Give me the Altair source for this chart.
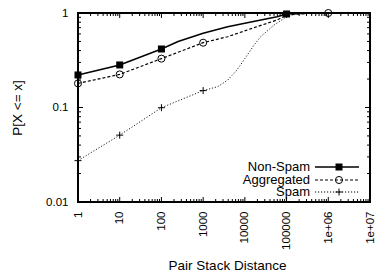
import altair as alt
import pandas as pd

# ---- data ----
nonspam_x = [1, 10, 100, 251, 1000, 3870, 15000, 59000, 100000, 300000, 1000000]
nonspam_y = [0.221, 0.282, 0.416, 0.50, 0.61, 0.716, 0.809, 0.914, 0.976, 0.995, 1.0]
nonspam_mx = [1, 10, 100, 100000]
nonspam_my = [0.221, 0.282, 0.416, 0.976]

aggregated_x = [1, 10, 100, 1000, 3870, 15000, 59000, 100000, 300000, 1000000]
aggregated_y = [0.18, 0.224, 0.329, 0.485, 0.561, 0.689, 0.843, 0.95, 0.99, 1.0]
aggregated_mx = [1, 10, 100, 1000, 1000000]
aggregated_my = [0.18, 0.224, 0.329, 0.485, 1.0]

spam_x = [1, 10, 100, 1000, 2240, 3870, 6000, 8000, 10000, 13000, 16600, 24000, 50000, 85000,
          100000, 178000, 1000000]
spam_y = [0.0274, 0.051, 0.0995, 0.151, 0.166, 0.195, 0.24, 0.285, 0.33, 0.39, 0.458, 0.561,
          0.746, 0.87, 0.92, 0.99, 1.0]
spam_mx = [1, 10, 100, 1000]
spam_my = [0.0274, 0.051, 0.0995, 0.151]

series_names = ["Non-Spam", "Aggregated", "Spam"]

x_major = [1, 10, 100, 1000, 10000, 100000, 1000000, 10000000]
x_tick_labels = ["1", "10", "100", "1000", "10000", "100000", "1e+06", "1e+07"]
x_minor = [k * 10 ** n for n in range(0, 7) for k in range(2, 10)]
y_major = [0.01, 0.1, 1]
y_tick_labels = ["0.01", "0.1", "1"]
y_minor = [k * 10.0 ** n for n in (-2, -1) for k in range(2, 10)]

W, H = 292, 189
FONT = "Liberation Sans"

xs = alt.Scale(type="log", domain=[1, 10000000], nice=False)
ys = alt.Scale(type="log", domain=[0.01, 1], nice=False)

x_lab_expr = "[" + ",".join("'%s'" % s for s in x_tick_labels) + "][round(log(datum.value)/LN10)]"
y_lab_expr = "[" + ",".join("'%s'" % s for s in y_tick_labels) + "][round(log(datum.value)/LN10)+2]"

x_axis = alt.Axis(values=x_major, labelExpr=x_lab_expr, labelAngle=270, labelFlush=False,
                  labelOverlap=False, labelPadding=9, ticks=False, tickSize=0, domain=False,
                  grid=False, labelFont=FONT, labelFontSize=11.5, labelColor="black",
                  title="Pair Stack Distance", titleFont=FONT, titleFontSize=13.5,
                  titleFontWeight="normal", titleColor="black", titleX=149, titleY=67,
                  titleAlign="center", titleBaseline="alphabetic")
y_axis = alt.Axis(values=y_major, labelExpr=y_lab_expr, labelPadding=10, ticks=False, tickSize=0,
                  domain=False, grid=False, labelFont=FONT, labelFontSize=11.5, labelColor="black",
                  title="P[X <= x]", titleFont=FONT, titleFontSize=13.5, titleFontWeight="normal",
                  titleColor="black", titleX=-57, titleY=94.5, titleAngle=270,
                  titleAlign="center", titleBaseline="alphabetic")


def df(xv, yv):
    return pd.DataFrame({"x": xv, "y": yv})


base_enc = dict(x=alt.X("x:Q", scale=xs, axis=x_axis), y=alt.Y("y:Q", scale=ys, axis=y_axis))

line_ns = alt.Chart(df(nonspam_x, nonspam_y)).mark_line(color="black", strokeWidth=1.5).encode(**base_enc)
line_ag = alt.Chart(df(aggregated_x, aggregated_y)).mark_line(color="black", strokeWidth=1.2, strokeDash=[3, 2]).encode(**base_enc)
line_sp = alt.Chart(df(spam_x, spam_y)).mark_line(color="#222", strokeWidth=1, strokeDash=[1.2, 1.8]).encode(**base_enc)

CROSS = "M-1,0H1M0,-1V1"
pt_ns = alt.Chart(df(nonspam_mx, nonspam_my)).mark_point(shape="square", size=49, filled=True, color="black", opacity=1).encode(**base_enc)
pt_ag = alt.Chart(df(aggregated_mx, aggregated_my)).mark_point(shape="circle", size=50, filled=False, color="black", strokeWidth=1, opacity=1).encode(**base_enc)
pt_sp = alt.Chart(df(spam_mx, spam_my)).mark_point(shape=CROSS, size=49, filled=False, color="black", strokeWidth=1, opacity=1).encode(**base_enc)

# inward ticks on all four sides
def xticks(vals, ln):
    d = pd.DataFrame({"x": vals})
    bot = alt.Chart(d).mark_rule(color="black", strokeWidth=1).encode(
        x=alt.X("x:Q", scale=xs, axis=x_axis), y=alt.value(H), y2=alt.value(H - ln))
    top = alt.Chart(d).mark_rule(color="black", strokeWidth=1).encode(
        x=alt.X("x:Q", scale=xs, axis=x_axis), y=alt.value(0), y2=alt.value(ln))
    return [bot, top]


def yticks(vals, ln):
    d = pd.DataFrame({"y": vals})
    lft = alt.Chart(d).mark_rule(color="black", strokeWidth=1).encode(
        y=alt.Y("y:Q", scale=ys, axis=y_axis), x=alt.value(0), x2=alt.value(ln))
    rgt = alt.Chart(d).mark_rule(color="black", strokeWidth=1).encode(
        y=alt.Y("y:Q", scale=ys, axis=y_axis), x=alt.value(W), x2=alt.value(W - ln))
    return [lft, rgt]


tick_layers = xticks(x_major, 5) + xticks(x_minor, 3) + yticks(y_major, 5) + yticks(y_minor, 3)

# legend (text right-aligned, sample line with marker to its right)
leg_rows = [154, 167, 179]
leg_txt_x = 232
leg_l0, leg_l1, leg_m = 237, 281, 261
dashes = [None, [3, 2], [1.2, 1.8]]
widths = [1.5, 1.2, 1]
shapes = [("square", 49, True), ("circle", 50, False), (CROSS, 49, False)]
one = pd.DataFrame({"a": [0]})
leg_layers = []
for i, name in enumerate(series_names):
    yy = leg_rows[i]
    leg_layers.append(alt.Chart(one).mark_text(align="right", baseline="middle", font=FONT,
                                               fontSize=13, color="black", text=name)
                      .encode(x=alt.value(leg_txt_x), y=alt.value(yy)))
    rk = dict(color="black", strokeWidth=widths[i])
    if dashes[i]:
        rk["strokeDash"] = dashes[i]
    leg_layers.append(alt.Chart(one).mark_rule(**rk).encode(
        x=alt.value(leg_l0), x2=alt.value(leg_l1), y=alt.value(yy)))
    shp, sz, fl = shapes[i]
    leg_layers.append(alt.Chart(one).mark_point(shape=shp, size=sz, filled=fl, color="black",
                                                strokeWidth=1, opacity=1)
                      .encode(x=alt.value(leg_m), y=alt.value(yy)))

chart = alt.layer(*tick_layers, line_sp, line_ag, line_ns, pt_sp, pt_ag, pt_ns, *leg_layers).properties(
    width=W, height=H,
    padding={"left": 70, "top": 5, "right": 5, "bottom": 70},
    autosize=alt.AutoSizeParams(type="none"),
    background="white",
).configure_view(stroke="black", strokeWidth=2)

chart.save("out.html", embed_options={"renderer": "svg", "actions": False})
